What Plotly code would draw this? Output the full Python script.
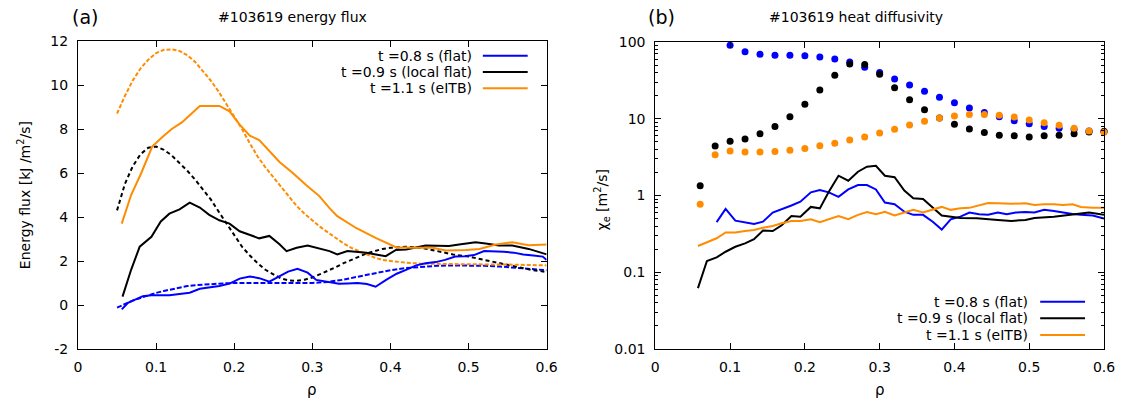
import plotly.graph_objects as go

# ---------------- Panel (a): energy flux ----------------
rho_flux08 = [0.056, 0.064, 0.083, 0.094, 0.117, 0.143, 0.156, 0.181, 0.194, 0.207, 0.22, 0.232,
              0.245, 0.258, 0.269, 0.281, 0.294, 0.305, 0.322, 0.334, 0.345, 0.358, 0.37, 0.381,
              0.395, 0.408, 0.42, 0.433, 0.445, 0.458, 0.47, 0.483, 0.495, 0.507, 0.52, 0.533,
              0.545, 0.558, 0.57, 0.583, 0.595, 0.6]
flux08 = [-0.2, 0.1, 0.4, 0.44, 0.44, 0.56, 0.74, 0.86, 0.97, 1.2, 1.3, 1.22,
          1.06, 1.32, 1.52, 1.65, 1.47, 1.14, 1.06, 0.97, 0.98, 1.0, 0.95, 0.83,
          1.15, 1.42, 1.6, 1.8, 1.9, 1.95, 2.05, 2.2, 2.22, 2.27, 2.45, 2.45,
          2.42, 2.38, 2.3, 2.25, 2.2, 2.05]

rho_flux09 = [0.057, 0.068, 0.079, 0.094, 0.106, 0.117, 0.13, 0.143, 0.156, 0.168, 0.181, 0.194,
              0.207, 0.22, 0.232, 0.245, 0.258, 0.267, 0.28, 0.294, 0.309, 0.322, 0.332, 0.345,
              0.369, 0.381, 0.394, 0.407, 0.42, 0.445, 0.475, 0.488, 0.509, 0.522, 0.539, 0.556,
              0.577, 0.6]
flux09 = [0.38, 1.6, 2.65, 3.1, 3.8, 4.15, 4.35, 4.65, 4.43, 4.1, 3.85, 3.7,
          3.35, 3.17, 3.03, 3.14, 2.76, 2.45, 2.6, 2.7, 2.55, 2.45, 2.3, 2.45,
          2.37, 2.3, 2.22, 2.5, 2.52, 2.7, 2.68, 2.75, 2.85, 2.8, 2.7, 2.7,
          2.55, 2.3]

rho_flux11 = [0.056, 0.068, 0.081, 0.095, 0.107, 0.12, 0.133, 0.145, 0.156, 0.181, 0.194, 0.207,
              0.22, 0.232, 0.245, 0.258, 0.275, 0.292, 0.309, 0.322, 0.332, 0.356, 0.381, 0.407,
              0.428, 0.454, 0.471, 0.497, 0.514, 0.535, 0.556, 0.577, 0.6]
flux11 = [3.7, 5.0, 6.0, 7.2, 7.6, 8.0, 8.3, 8.7, 9.05, 9.05, 8.8, 8.2,
          7.7, 7.5, 7.0, 6.5, 6.0, 5.45, 4.95, 4.4, 4.04, 3.5, 3.05, 2.63,
          2.6, 2.6, 2.48, 2.5, 2.55, 2.75, 2.85, 2.72, 2.75]

rho_model08 = [0.05, 0.06, 0.07, 0.08, 0.09, 0.10, 0.11, 0.12, 0.13, 0.14, 0.15, 0.16, 0.18, 0.20,
               0.22, 0.24, 0.26, 0.28, 0.30, 0.32, 0.34, 0.36, 0.38, 0.40, 0.42, 0.44, 0.46, 0.48,
               0.50, 0.52, 0.54, 0.56, 0.58, 0.60]
model08 = [-0.12, 0.05, 0.2, 0.32, 0.45, 0.55, 0.64, 0.72, 0.8, 0.86, 0.9, 0.93, 0.97, 1.0,
           1.0, 1.0, 0.98, 0.97, 1.0, 1.05, 1.15, 1.3, 1.45, 1.58, 1.68, 1.74, 1.78, 1.8,
           1.8, 1.78, 1.75, 1.7, 1.64, 1.58]

rho_model09 = [0.05, 0.06, 0.07, 0.08, 0.09, 0.10, 0.11, 0.12, 0.13, 0.14, 0.15, 0.16, 0.17, 0.18,
               0.19, 0.20, 0.21, 0.22, 0.23, 0.24, 0.25, 0.26, 0.27, 0.28, 0.29, 0.30, 0.31, 0.32,
               0.33, 0.34, 0.35, 0.36, 0.37, 0.38, 0.39, 0.40, 0.42, 0.44, 0.46, 0.48, 0.50, 0.52,
               0.54, 0.56, 0.58, 0.60]
model09 = [4.3, 5.5, 6.3, 6.85, 7.15, 7.2, 7.05, 6.8, 6.45, 6.1, 5.7, 5.25, 4.8, 4.25,
           3.7, 3.15, 2.65, 2.25, 1.9, 1.6, 1.38, 1.2, 1.12, 1.1, 1.15, 1.25, 1.4, 1.55,
           1.72, 1.9, 2.05, 2.2, 2.35, 2.45, 2.55, 2.6, 2.65, 2.6, 2.45, 2.3, 2.2, 2.05,
           1.9, 1.75, 1.6, 1.5]

rho_model11 = [0.05, 0.06, 0.07, 0.08, 0.09, 0.10, 0.11, 0.12, 0.13, 0.14, 0.15, 0.16, 0.17, 0.18,
               0.19, 0.20, 0.21, 0.22, 0.23, 0.24, 0.25, 0.26, 0.27, 0.28, 0.29, 0.30, 0.31, 0.32,
               0.33, 0.34, 0.35, 0.36, 0.37, 0.38, 0.39, 0.40, 0.42, 0.44, 0.46, 0.50, 0.55, 0.60]
model11 = [8.7, 9.5, 10.2, 10.75, 11.15, 11.45, 11.6, 11.62, 11.55, 11.35, 11.05, 10.65, 10.2, 9.7,
           9.15, 8.6, 8.0, 7.35, 6.75, 6.25, 5.8, 5.35, 4.9, 4.5, 4.15, 3.85, 3.55, 3.3,
           3.05, 2.8, 2.6, 2.45, 2.3, 2.15, 2.05, 2.0, 1.92, 1.88, 1.86, 1.85, 1.84, 1.8]

# ---------------- Panel (b): heat diffusivity ----------------
rho_dots = [0.06, 0.08, 0.10, 0.12, 0.14, 0.16, 0.18, 0.20, 0.22, 0.24, 0.26, 0.28, 0.30, 0.32,
            0.34, 0.36, 0.38, 0.40, 0.42, 0.44, 0.46, 0.48, 0.50, 0.52, 0.54, 0.56, 0.58, 0.60]
chi_dots08 = [None, None, 91, 74.8, 69, 67, 67, 66, 64, 60, 55, 47, 40, 33,
              27.5, 22.8, 19, 16.2, 13.8, 12.1, 10.6, 9.4, 8.6, 7.9, 7.5, 7.25, 6.9, 6.8]
chi_dots09 = [1.34, 4.4, 5.1, 5.45, 6.4, 7.9, 10.6, 15.4, 23.7, 37, 51.6, 51, 38, 25.4,
              17.7, 13.1, 10.2, 8.5, 7.35, 6.6, 6.1, 6.0, 5.8, 6.0, 6.1, 6.4, 6.7, 6.8]
chi_dots11 = [0.77, 3.4, 3.8, 3.7, 3.7, 3.75, 3.9, 4.1, 4.45, 4.8, 5.3, 5.8, 6.5, 7.3,
              8.3, 9.25, 10.2, 10.9, 11.4, 11.4, 11.1, 10.5, 9.6, 8.9, 8.2, 7.5, 6.9, 6.65]

rho_chi08 = [0.082, 0.094, 0.107, 0.132, 0.144, 0.157, 0.182, 0.194, 0.208, 0.22, 0.232, 0.245,
             0.258, 0.271, 0.283, 0.295, 0.307, 0.32, 0.333, 0.345, 0.358, 0.371, 0.383, 0.395,
             0.408, 0.42, 0.433, 0.445, 0.458, 0.47, 0.482, 0.495, 0.507, 0.52, 0.533, 0.545,
             0.558, 0.569, 0.585, 0.6]
chi08 = [0.45, 0.67, 0.47, 0.425, 0.456, 0.6, 0.74, 0.83, 1.1, 1.18, 1.1, 0.96,
         1.2, 1.37, 1.37, 1.2, 0.81, 0.77, 0.615, 0.56, 0.56, 0.456, 0.36, 0.49,
         0.53, 0.6, 0.57, 0.56, 0.6, 0.57, 0.6, 0.61, 0.6, 0.65, 0.63, 0.6,
         0.575, 0.56, 0.55, 0.5]

rho_chi09 = [0.057, 0.069, 0.082, 0.094, 0.107, 0.12, 0.132, 0.144, 0.157, 0.169, 0.182, 0.194,
             0.208, 0.22, 0.232, 0.245, 0.258, 0.271, 0.283, 0.295, 0.307, 0.32, 0.333, 0.345,
             0.358, 0.371, 0.383, 0.408, 0.43, 0.458, 0.476, 0.495, 0.507, 0.533, 0.545, 0.558,
             0.58, 0.6]
chi09 = [0.062, 0.14, 0.156, 0.185, 0.215, 0.238, 0.27, 0.35, 0.345, 0.41, 0.54, 0.53,
         0.71, 0.68, 1.12, 1.81, 1.56, 2.04, 2.37, 2.44, 1.81, 1.73, 1.16, 0.92,
         0.9, 0.7, 0.55, 0.51, 0.505, 0.48, 0.466, 0.48, 0.51, 0.53, 0.545, 0.56,
         0.6, 0.56]

rho_chi11 = [0.057, 0.069, 0.082, 0.094, 0.107, 0.12, 0.132, 0.144, 0.157, 0.169, 0.182, 0.194,
             0.208, 0.22, 0.232, 0.245, 0.258, 0.271, 0.283, 0.295, 0.307, 0.32, 0.333, 0.345,
             0.358, 0.371, 0.383, 0.395, 0.408, 0.42, 0.433, 0.445, 0.458, 0.476, 0.495, 0.507,
             0.52, 0.533, 0.545, 0.558, 0.569, 0.585, 0.6]
chi11 = [0.22, 0.243, 0.277, 0.33, 0.33, 0.345, 0.355, 0.38, 0.4, 0.435, 0.466, 0.466,
         0.49, 0.45, 0.49, 0.54, 0.49, 0.56, 0.61, 0.57, 0.615, 0.55, 0.6, 0.65,
         0.6, 0.65, 0.71, 0.65, 0.68, 0.69, 0.75, 0.8, 0.79, 0.78, 0.79, 0.75,
         0.77, 0.77, 0.75, 0.77, 0.71, 0.69, 0.69]

legend_labels = ["t =0.8 s (flat)", "t =0.9 s (local flat)", "t =1.1 s (eITB)"]
x_ticks = [0, 0.1, 0.2, 0.3, 0.4, 0.5, 0.6]
y_ticks_a = [-2, 0, 2, 4, 6, 8, 10, 12]
y_ticks_b = [0.01, 0.1, 1, 10, 100]

BLUE = "#0000ff"
BLACK = "#000000"
ORANGE = "#ff8c00"
colors = [BLUE, BLACK, ORANGE]
FONT = "DejaVu Sans"

fig = go.Figure()

# panel (a): dashed models
for rx, vy, c, d in [(rho_model08, model08, BLUE, "5px,2px"),
                     (rho_model09, model09, BLACK, "4px,3px"),
                     (rho_model11, model11, ORANGE, "4px,2px")]:
    fig.add_trace(go.Scatter(x=rx, y=vy, mode="lines", xaxis="x", yaxis="y",
                             line=dict(color=c, width=2, dash=d), showlegend=False))
# panel (a): solid
for rx, vy, c in [(rho_flux08, flux08, BLUE), (rho_flux09, flux09, BLACK), (rho_flux11, flux11, ORANGE)]:
    fig.add_trace(go.Scatter(x=rx, y=vy, mode="lines", xaxis="x", yaxis="y",
                             line=dict(color=c, width=2), showlegend=False))

# panel (b): dots
for vy, c in [(chi_dots08, BLUE), (chi_dots09, BLACK), (chi_dots11, ORANGE)]:
    fig.add_trace(go.Scatter(x=rho_dots, y=vy, mode="markers", xaxis="x2", yaxis="y2",
                             cliponaxis=False,
                             marker=dict(color=c, size=7), showlegend=False))
# panel (b): lines
for rx, vy, c in [(rho_chi08, chi08, BLUE), (rho_chi09, chi09, BLACK), (rho_chi11, chi11, ORANGE)]:
    fig.add_trace(go.Scatter(x=rx, y=vy, mode="lines", xaxis="x2", yaxis="y2",
                             line=dict(color=c, width=2), showlegend=False))

# geometry helpers (pixel -> paper)
L, R, T, B = 78, 20, 41, 54
W, H = 1127, 403
PW, PH = W - L - R, H - T - B


def px(x):
    return (x - L) / PW


def py(y):
    return (H - B - y) / PH


axis_common = dict(showline=True, linecolor="black", linewidth=1, mirror="ticks",
                   ticks="inside", ticklen=6, tickcolor="black", showgrid=False, zeroline=False,
                   tickfont=dict(family=FONT, size=14, color="black"))

fig.update_layout(
    width=W, height=H,
    margin=dict(l=L, r=R, t=T, b=B),
    paper_bgcolor="white", plot_bgcolor="white",
    font=dict(family=FONT, size=14, color="black"),
    showlegend=False,
    xaxis=dict(domain=[0, px(548)], range=[0, 0.6], tickvals=x_ticks,
               ticktext=[f"{v:g}" for v in x_ticks], ticklabelstandoff=5, **axis_common),
    yaxis=dict(domain=[0, 1], range=[-2, 12], tickvals=y_ticks_a,
               ticktext=[str(v) for v in y_ticks_a], ticklabelstandoff=6, **axis_common),
    xaxis2=dict(domain=[px(657), 1], range=[0, 0.6], anchor="y2", tickvals=x_ticks,
                ticktext=[f"{v:g}" for v in x_ticks], ticklabelstandoff=5, **axis_common),
    yaxis2=dict(domain=[py(349), py(42)], type="log", range=[-2, 2], anchor="x2",
                tickvals=y_ticks_b, ticktext=["0.01", "0.1", "1", "10", "100"],
                ticklabelstandoff=6,
                minor=dict(ticks="inside", ticklen=3, tickcolor="black", dtick="D1", showgrid=False),
                **axis_common),
)

ann = []
ann.append(dict(text="(a)", x=px(85), y=py(17), font=dict(size=19)))
ann.append(dict(text="#103619 energy flux", x=px(293), y=py(17), font=dict(size=14)))
ann.append(dict(text="(b)", x=px(663), y=py(17), font=dict(size=19)))
ann.append(dict(text="#103619 heat diffusivity", x=px(858), y=py(17), font=dict(size=14)))
ann.append(dict(text="Energy flux [kJ /m<sup>2</sup>/s]", x=px(24), y=py(195), textangle=-90,
                font=dict(size=14)))
ann.append(dict(text="χ<sub>e</sub> [m<sup>2</sup>/s]", x=px(604), y=py(200), textangle=-90,
                font=dict(size=14)))
ann.append(dict(text="ρ", x=px(313), y=py(390), font=dict(size=15)))
ann.append(dict(text="ρ", x=px(882), y=py(390), font=dict(size=15)))

shapes = []
# legend (a)
for i, (lab, c) in enumerate(zip(legend_labels, colors)):
    yy = 55.7 + 16.3 * i
    ann.append(dict(text=lab, x=px(475), y=py(yy), xanchor="right", font=dict(size=14)))
    shapes.append(dict(type="line", xref="paper", yref="paper", x0=px(484), x1=px(529),
                       y0=py(yy), y1=py(yy), line=dict(color=c, width=2)))
# legend (b)
for i, (lab, c) in enumerate(zip(legend_labels, colors)):
    yy = 301.7 + 16.6 * i
    ann.append(dict(text=lab, x=px(1033), y=py(yy), xanchor="right", font=dict(size=14)))
    shapes.append(dict(type="line", xref="paper", yref="paper", x0=px(1043), x1=px(1088),
                       y0=py(yy), y1=py(yy), line=dict(color=c, width=2)))

for a in ann:
    a.setdefault("xanchor", "center")
    a.update(xref="paper", yref="paper", yanchor="middle", showarrow=False)
    a["font"] = dict(family=FONT, color="black", **a["font"])

fig.update_layout(annotations=ann, shapes=shapes)

fig.write_html("out.html", config={"displayModeBar": False},
               post_script="document.body.style.margin='0';document.body.style.overflow='hidden';")
